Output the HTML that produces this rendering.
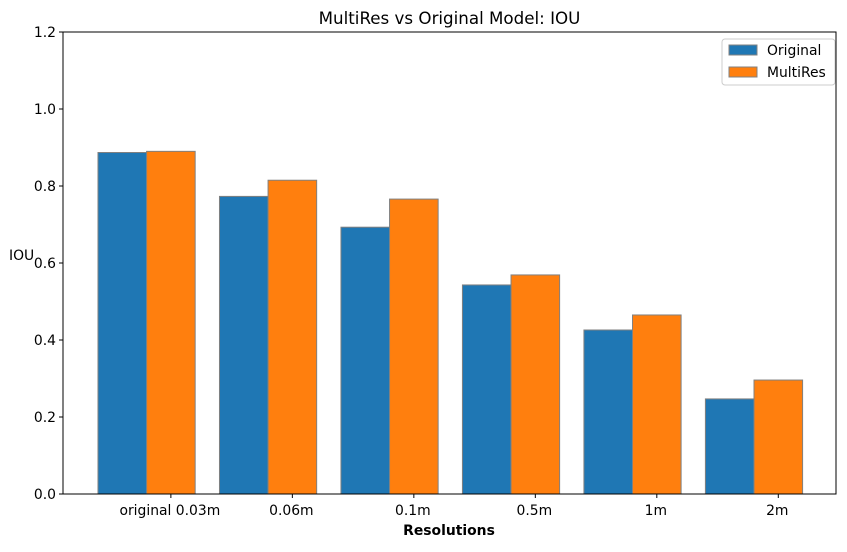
<!DOCTYPE html>
<html><head><meta charset="utf-8"><style>
body{margin:0;background:#fff;font-family:"Liberation Sans","DejaVu Sans",sans-serif;}
svg text{font-family:"DejaVu Sans","Liberation Sans",sans-serif;}
</style></head><body>
<svg id="chart" width="847" height="547" xmlns="http://www.w3.org/2000/svg">
<rect width="847" height="547" fill="#fff"/>
<g id="marks"></g>
<g id="axes"></g>
</svg>
<script>
const categories=["original 0.03m","0.06m","0.1m","0.5m","1m","2m"];
const originalValues=[0.887,0.773,0.693,0.543,0.426,0.247];
const multiresValues=[0.890,0.815,0.766,0.569,0.465,0.296];
const yTicks=[0.0,0.2,0.4,0.6,0.8,1.0,1.2];
const seriesNames=["Original","MultiRes"];

const L=63,R=836,T=32,B=494;
const xmin=-0.288,xmax=6.075,ymin=0,ymax=1.2;
const xs=v=>L+(v-xmin)/(xmax-xmin)*(R-L);
const ys=v=>B-(v-ymin)/(ymax-ymin)*(B-T);
const NS="http://www.w3.org/2000/svg";
function mk(tag,attrs,parent,text){const e=document.createElementNS(NS,tag);for(const k in attrs)e.setAttribute(k,attrs[k]);if(text!==undefined)e.textContent=text;parent.appendChild(e);return e;}
const marks=document.getElementById('marks'),axes=document.getElementById('axes');
const colors=["#1f77b4","#ff7f0e"];
const w=0.4;
[originalValues,multiresValues].forEach((vals,s)=>{
  vals.forEach((v,i)=>{
    const x0=xs(i+s*w),x1=xs(i+s*w+w);
    const r=mk('rect',{x:x0,y:ys(v),width:x1-x0,height:ys(0)-ys(v),fill:colors[s],stroke:'#808080','stroke-width':1},marks);
    
    
  });
});
const frame=mk('rect',{x:L,y:T,width:R-L,height:B-T,fill:'none',stroke:'#000','stroke-width':1},axes);


yTicks.forEach(t=>{
  const y=ys(t);
  mk('line',{x1:L-4,x2:L,y1:y,y2:y,stroke:'#000'},axes);
  const tx=mk('text',{x:L-7,y:y+5,'text-anchor':'end','font-size':13.9},axes,t.toFixed(1));
  
  
});
categories.forEach((c,i)=>{
  const x=xs(i+0.6);
  mk('line',{x1:x,x2:x,y1:B,y2:B+4,stroke:'#000'},axes);
  const tx=mk('text',{x:x-1,y:B+21,'text-anchor':'middle','font-size':13.9},axes,c);
  
  
});
const title=mk('text',{x:(L+R)/2,y:24,'text-anchor':'middle','font-size':16.7},axes,'MultiRes vs Original Model: IOU');


const xl=mk('text',{x:449,y:535,'text-anchor':'middle','font-size':13.9,'font-weight':'bold'},axes,'Resolutions');


const yl=mk('text',{x:9,y:260,'font-size':13.9},axes,'IOU');


const lg=mk('g',{},axes);


mk('rect',{x:722,y:39,width:113,height:46,rx:3,fill:'#fff',stroke:'#ccc','fill-opacity':0.8},lg);
seriesNames.forEach((n,s)=>{
  const y=45+s*22;
  mk('rect',{x:729,y:y,width:28,height:10,fill:colors[s],stroke:'#808080'},lg);
  const tx=mk('text',{x:767,y:y+10,'font-size':13.9},lg,n);
  
  
});
</script>
</body></html>
